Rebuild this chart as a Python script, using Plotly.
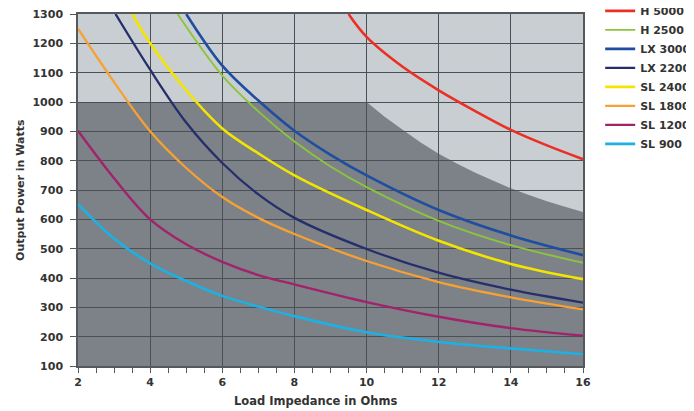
import plotly.graph_objects as go

# ---------------- data ----------------
series_names = ["H 5000", "H 2500", "LX 3000", "LX 2200", "SL 2400", "SL 1800", "SL 1200", "SL 900"]

h5000_x = [9.5, 10, 11, 12, 13, 14, 15, 16]
h5000_y = [1300, 1222, 1120, 1040, 970, 905, 852, 805]

h2500_x = [4.76, 6, 7, 8, 9, 10, 12, 14, 16]
h2500_y = [1300, 1090, 968, 865, 780, 710, 595, 512, 452]

lx3000_x = [5.0, 6, 7, 8, 9, 10, 12, 14, 16]
lx3000_y = [1300, 1124, 1005, 902, 820, 750, 632, 545, 478]

lx2200_x = [3.04, 4, 5, 6, 7, 8, 10, 12, 14, 16]
lx2200_y = [1300, 1110, 930, 792, 685, 605, 499, 418, 360, 316]

sl2400_x = [3.51, 4, 5, 6, 7, 8, 10, 12, 14, 16]
sl2400_y = [1300, 1200, 1040, 910, 825, 750, 632, 527, 448, 396]

sl1800_x = [2, 3, 4, 5, 6, 7, 8, 10, 12, 14, 16]
sl1800_y = [1250, 1068, 900, 775, 676, 605, 550, 458, 386, 334, 293]

sl1200_x = [2, 3, 4, 5, 6, 7, 8, 10, 12, 14, 16]
sl1200_y = [902, 740, 600, 515, 455, 410, 378, 318, 268, 229, 203]

sl900_x = [2, 3, 4, 5, 6, 8, 10, 12, 14, 16]
sl900_y = [652, 535, 450, 390, 339, 270, 215, 182, 160, 140]

# operating-limit region (dark area)
limit_x = [2, 10, 10.5, 11, 11.5, 12, 12.5, 13, 13.5, 14, 14.5, 15, 15.5, 16]
limit_y = [1000, 1000, 950, 905, 862, 824, 790, 760, 732, 706, 683, 662, 643, 625]
limit_floor = 100

x_ticks = [2, 4, 6, 8, 10, 12, 14, 16]
y_ticks = list(range(100, 1400, 100))

# ---------------- styles ----------------
colors = ["#ec2f25", "#8cc43f", "#1f4ea0", "#262f6b", "#f3e500", "#f7a033", "#a2226c", "#1db1e3"]
widths = [2.6, 1.9, 2.6, 2.3, 2.6, 2.3, 2.4, 2.6]
xs = [h5000_x, h2500_x, lx3000_x, lx2200_x, sl2400_x, sl1800_x, sl1200_x, sl900_x]
ys = [h5000_y, h2500_y, lx3000_y, lx2200_y, sl2400_y, sl1800_y, sl1200_y, sl900_y]

FONT = "DejaVu Sans"
TXT = "#333333"

fig = go.Figure()
for name, x, y, c, w in zip(series_names, xs, ys, colors, widths):
    fig.add_trace(go.Scatter(x=x, y=y, mode="lines", name=name,
                             line=dict(color=c, width=w, shape="spline", smoothing=1.0)))

# dark region path built from the limit lists
path = f"M {limit_x[0]},{limit_floor} "
for lx, ly in zip(limit_x, limit_y):
    path += f"L {lx},{ly} "
path += f"L {limit_x[-1]},{limit_floor} Z"

fig.add_shape(type="path", path=path, xref="x", yref="y", layer="below",
              fillcolor="#7c8287", line=dict(width=0))

fig.update_layout(
    width=686, height=403,
    margin=dict(l=70, r=111, t=6, b=45, autoexpand=False),
    paper_bgcolor="white",
    plot_bgcolor="#c9ced2",
    font=dict(family=FONT, size=11, color=TXT),
    showlegend=True,
    legend=dict(x=1.034, y=1.05, xanchor="left", yanchor="top",
                font=dict(family=FONT, size=11, color=TXT, weight="bold"),
                bgcolor="rgba(0,0,0,0)", borderwidth=0, tracegroupgap=0,
                itemwidth=30),
    xaxis=dict(range=[2, 16], tickmode="array", tickvals=x_ticks,
               ticktext=[str(v) for v in x_ticks],
               showgrid=True, gridcolor="#4a5055", gridwidth=1.4,
               showline=True, linecolor="#55595c", linewidth=1.5, mirror=True,
               ticks="outside", ticklen=5, tickcolor="#55595c",
               ticklabeloverflow="allow",
               minor=dict(dtick=0.5, ticks="outside", ticklen=5, tickcolor="#55595c", showgrid=False),
               tickfont=dict(family=FONT, size=11, color=TXT, weight="bold"),
               zeroline=False),
    yaxis=dict(range=[100, 1300], tickmode="array", tickvals=y_ticks,
               ticktext=[str(v) for v in y_ticks],
               showgrid=True, gridcolor="#4a5055", gridwidth=1.4,
               showline=True, linecolor="#55595c", linewidth=1.5, mirror=True,
               ticks="outside", ticklen=6, tickcolor="#55595c",
               ticklabelstandoff=5, ticklabeloverflow="allow",
               tickfont=dict(family=FONT, size=11, color=TXT, weight="bold"),
               zeroline=False),
    annotations=[
        dict(text="Output Power in Watts", xref="paper", yref="paper",
             x=-0.115, y=0.5, textangle=-90, showarrow=False,
             xanchor="center", yanchor="middle",
             font=dict(family=FONT, size=11, color=TXT, weight="bold")),
        dict(text="Load Impedance in Ohms", xref="paper", yref="paper",
             x=0.471, y=-0.1, showarrow=False,
             xanchor="center", yanchor="middle",
             font=dict(family=FONT, size=11.5, color=TXT, weight="bold")),
    ],
)

fig.write_html("out.html")
